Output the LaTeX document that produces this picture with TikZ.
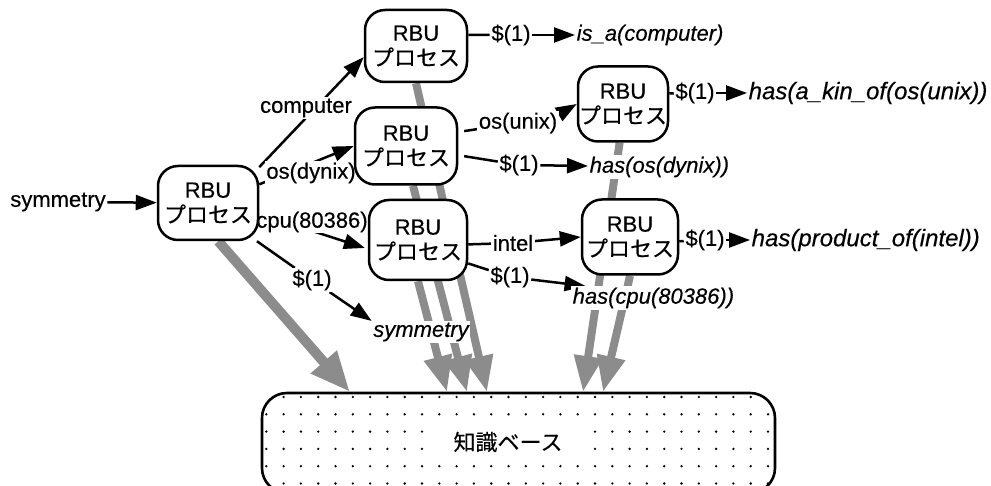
\documentclass[tikz,border=0pt]{standalone}
\usepackage{fontspec}
\setmainfont{Liberation Sans}[FakeBold=0.4]
\newfontfamily\jp{Noto Sans CJK JP}[FakeBold=0.3]
\usetikzlibrary{arrows.meta}
\pgfdeclarelayer{hatchl}
\pgfdeclarelayer{edgel}
\pgfsetlayers{hatchl,edgel,main}
\colorlet{hatchc}{black!45}
\begin{document}
\begin{tikzpicture}[x=1pt,y=-1pt,
  every node/.style={font=\fontsize{22}{25}\selectfont},
  rbu/.style={draw, line width=2.5pt, rounded corners=20pt, fill=white, align=center, inner sep=0pt},
  lbl/.style={fill=white, inner sep=1.5pt},
  ital/.style={lbl, font=\fontsize{22}{25}\selectfont\itshape},
  italbig/.style={lbl, font=\fontsize{24}{27}\selectfont\itshape},
  conn/.style={line width=2.5pt},
  arr/.style={conn, -{Triangle[length=21pt,width=15pt]}},
  hatchA/.style={draw=hatchc, line width=10pt, -{Triangle[length=40pt,width=32pt]}, hatchc},
  hatchM/.style={draw=hatchc, line width=8pt, -{Triangle[length=36pt,width=27pt]}, hatchc},
]
\clip (0,0) rectangle (991,486);

% labels
\node[lbl] (sym) at (58,202) {symmetry};
\node[lbl] (comp) at (306,108) {computer};
\node[lbl] (osd) at (311,173) {os(dynix)};
\node[lbl, inner sep=0.5pt] (cpu) at (312,222) {cpu(80386)};
\node[lbl] (d1) at (312,280) {\$(1)};
\node[ital] (symI) at (421,332) {symmetry};
\node[lbl] (d2) at (511,35) {\$(1)};
\node[ital, anchor=west] (isa) at (575,35) {is\_a(computer)};
\node[lbl] (osu) at (518,123) {os(unix)};
\node[lbl] (d3) at (519,165) {\$(1)};
\node[ital, anchor=west] (hasos) at (588,167) {has(os(dynix))};
\node[lbl] (d4) at (695,93) {\$(1)};
\node[italbig, anchor=west] (hasak) at (747,93) {has(a\_kin\_of(os(unix))};
\node[lbl] (intel) at (513,243) {intel};
\node[lbl] (d5) at (510,277) {\$(1)};
\node[ital, anchor=west] (hascpu) at (571,298) {has(cpu(80386))};
\node[lbl] (d6) at (705,240) {\$(1)};
\node[italbig, anchor=west] (hasprod) at (750,240) {has(product\_of(intel))};

% process boxes
\node[rbu, minimum width=100pt, minimum height=74pt] (A) at (208,203) {RBU\\{\jp プロセス}};
\node[rbu, minimum width=102pt, minimum height=72pt] (B) at (416,46) {RBU\\{\jp プロセス}};
\node[rbu, minimum width=102pt, minimum height=77pt] (C) at (406,146) {RBU\\{\jp プロセス}};
\node[rbu, minimum width=90pt, minimum height=75pt] (D) at (623,104) {RBU\\{\jp プロセス}};
\node[rbu, minimum width=98pt, minimum height=80pt] (E) at (418,240) {RBU\\{\jp プロセス}};
\node[rbu, minimum width=96pt, minimum height=75pt] (F) at (630,237) {RBU\\{\jp プロセス}};

% knowledge base
\begin{scope}
  \clip[rounded corners=25pt] (262,393) rectangle (775,493);
  \foreach \i in {0,...,29} {
    \foreach \j in {0,...,5} {
      \fill ({768-17.3*\i},{397+17.3*\j}) circle (1.3pt);
    }
  }
\end{scope}
\node[draw, line width=2.6pt, rounded corners=25pt, minimum width=513pt, minimum height=100pt, inner sep=0pt] (KB) at (518.5,443) {};
\node[fill=white, inner xsep=28pt, inner ysep=5pt, font=\fontsize{22}{25}\selectfont\jp] (kbt) at (508,442) {知識ベース};

% hatched arrows into the knowledge base
\coordinate (kA) at (350,392);
\coordinate (kB) at (487,392);
\coordinate (kC) at (467,392);
\coordinate (kE) at (447,392);
\coordinate (kD) at (583,392);
\coordinate (kF) at (603,392);
\begin{pgfonlayer}{hatchl}
  \draw[hatchA] (A.-75) -- (kA);
  \draw[hatchM] (B.south) -- (kB);
  \draw[hatchM] (C.-80) -- (kC);
  \draw[hatchM] (E.south) -- (kE);
  \draw[hatchM] (D.-95) -- (kD);
  \draw[hatchM] (F.south) -- (kF);
\end{pgfonlayer}

% connectors
\begin{pgfonlayer}{edgel}
  \draw[arr] (sym) -- (A);
  \draw[arr] (A.35) -- (B.192);
  \draw[arr] (A.20) -- (C.west);
  \draw[arr, shorten >=3pt] (A.-12) -- (E.190);
  \draw[conn] (A.-38) -- (d1);
  \draw[arr] (d1) -- (symI.north west);
  \draw[conn] (B.12) -- (d2);
  \draw[arr] (d2) -- (isa);
  \draw[conn, shorten <=6pt] (C.15) -- (osu);
  \draw[arr] (osu.12) -- (D.west);
  \draw[conn, shorten <=6pt] (C.-10) -- (d3);
  \draw[arr] (d3) -- (hasos);
  \draw[conn] (D.13) -- (d4);
  \draw[arr] (d4) -- (hasak);
  \draw[conn] (E.-5) -- (intel);
  \draw[arr] (intel) -- (F.west);
  \draw[conn] (E.-25) -- (d5);
  \draw[arr] (d5) -- (hascpu.170);
  \draw[conn] (F.-5) -- (d6);
  \draw[arr] (d6) -- (hasprod);
\end{pgfonlayer}
\end{tikzpicture}
\end{document}
